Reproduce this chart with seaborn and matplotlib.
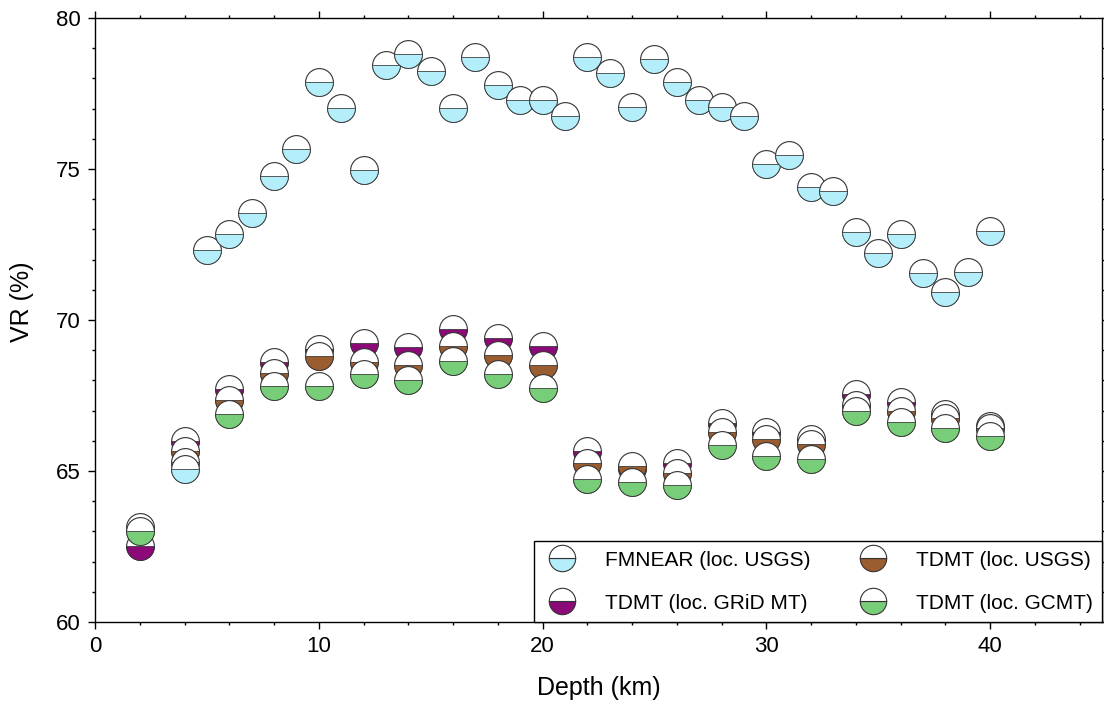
import numpy as np
import pandas as pd
import matplotlib
matplotlib.use("Agg")
import matplotlib.pyplot as plt
from matplotlib.path import Path
from matplotlib.lines import Line2D
from matplotlib.ticker import MultipleLocator
import seaborn as sns

# Variance reduction (%) versus source depth (km)
fmnear_depth = [4, 5, 6, 7, 8, 9, 10, 11, 12, 13, 14, 15, 16, 17, 18, 19, 20, 21,
                22, 23, 24, 25, 26, 27, 28, 29, 30, 31, 32, 33, 34, 35, 36, 37,
                38, 39, 40]
fmnear_vr = [65.05, 72.32, 72.85, 73.54, 74.77, 75.66, 77.88, 77.02, 74.97, 78.44,
             78.80, 78.25, 77.02, 78.70, 77.78, 77.30, 77.30, 76.75, 78.70, 78.18,
             77.05, 78.64, 77.88, 77.30, 77.05, 76.75, 75.17, 75.48, 74.40, 74.27,
             72.91, 72.22, 72.85, 71.56, 70.93, 71.59, 72.95]

tdmt_depth = [2, 4, 6, 8, 10, 12, 14, 16, 18, 20, 22, 24, 26, 28, 30, 32, 34, 36, 38, 40]
tdmt_grid_vr = [62.50, 66.00, 67.70, 68.60, 69.05, 69.25, 69.10, 69.70, 69.40, 69.15,
                65.65, 65.10, 65.25, 66.60, 66.30, 66.05, 67.55, 67.30, 66.90, 66.50]
tdmt_usgs_vr = [63.15, 65.65, 67.35, 68.25, 68.80, 68.62, 68.50, 69.15, 68.85, 68.50,
                65.25, 65.15, 64.95, 66.30, 66.05, 65.90, 67.20, 67.00, 66.75, 66.42]
tdmt_gcmt_vr = [63.02, 65.30, 66.88, 67.80, 67.80, 68.20, 68.00, 68.65, 68.20, 67.75,
                64.72, 64.65, 64.52, 65.87, 65.50, 65.40, 67.00, 66.62, 66.42, 66.15]

labels = ["FMNEAR (loc. USGS)", "TDMT (loc. GRiD MT)",
          "TDMT (loc. USGS)", "TDMT (loc. GCMT)"]
colors = {"FMNEAR (loc. USGS)": "#b3eefa",
          "TDMT (loc. GRiD MT)": "#8c0a78",
          "TDMT (loc. USGS)": "#9b5c30",
          "TDMT (loc. GCMT)": "#78cd78"}

sns.set_theme(style="ticks")
plt.rcParams["font.family"] = ["Liberation Sans", "DejaVu Sans"]
plt.rcParams.update({"text.color": "black", "axes.labelcolor": "black",
                     "xtick.color": "black", "ytick.color": "black"})

EDGE = "#333333"
BALL_S = 400
BALL_LW = 0.8

# lower half of a unit disk: the shaded (compressional) part of the beachball
theta = np.linspace(np.pi, 2 * np.pi, 64)
half_verts = np.vstack([np.column_stack([np.cos(theta), np.sin(theta)]), [[-1.0, 0.0]]])
half_codes = [Path.MOVETO] + [Path.LINETO] * (len(theta) - 1) + [Path.CLOSEPOLY]
lower_half = Path(half_verts, half_codes)

fig = plt.figure(figsize=(11.04, 7.02), dpi=100)
ax = fig.add_axes([95 / 1104, 1 - 622 / 702, (1102 - 95) / 1104, (622 - 18) / 702])


def draw_balls(depths, values, color):
    for d, v in zip(depths, values):
        pt = pd.DataFrame({"depth": [d], "vr": [v]})
        sns.scatterplot(data=pt, x="depth", y="vr", marker="o", s=BALL_S,
                        color="white", edgecolor=EDGE, linewidth=BALL_LW,
                        ax=ax, legend=False, zorder=3)
        sns.scatterplot(data=pt, x="depth", y="vr", marker=lower_half, s=BALL_S,
                        color=color, edgecolor=EDGE, linewidth=BALL_LW * 0.7,
                        ax=ax, legend=False, zorder=3)


draw_balls(tdmt_depth, tdmt_grid_vr, colors["TDMT (loc. GRiD MT)"])
draw_balls(tdmt_depth, tdmt_usgs_vr, colors["TDMT (loc. USGS)"])
draw_balls(tdmt_depth, tdmt_gcmt_vr, colors["TDMT (loc. GCMT)"])
draw_balls(fmnear_depth, fmnear_vr, colors["FMNEAR (loc. USGS)"])

ax.set_xlim(0, 45)
ax.set_ylim(60, 80)
ax.xaxis.set_major_locator(MultipleLocator(10))
ax.xaxis.set_minor_locator(MultipleLocator(2))
ax.yaxis.set_major_locator(MultipleLocator(5))
ax.yaxis.set_minor_locator(MultipleLocator(1))
ax.tick_params(which="both", direction="out", top=True, right=True,
               labeltop=False, labelright=False, color="black", width=1.0)
ax.tick_params(which="major", length=5, labelsize=16, pad=5)
ax.tick_params(which="minor", length=2.5)
for sp in ax.spines.values():
    sp.set_color("black")
    sp.set_linewidth(1.0)

ax.set_xlabel("Depth (km)", fontsize=18, labelpad=14)
ax.set_ylabel("VR (%)", fontsize=18, labelpad=16)
ax.yaxis.label.set_y(0.53)

handles = [Line2D([], [], linestyle="none", marker="o", markersize=19,
                  fillstyle="bottom", markerfacecolor=colors[lab],
                  markerfacecoloralt="white", markeredgecolor=EDGE,
                  markeredgewidth=0.8) for lab in labels]
leg = ax.legend(handles, labels, loc="lower right", ncol=2, frameon=True,
                fancybox=False, edgecolor="black", framealpha=1,
                borderaxespad=0, fontsize=15, handlelength=1.8,
                handletextpad=1.15, columnspacing=2.1, borderpad=0.45,
                labelspacing=1.15)
leg.get_frame().set_linewidth(1.0)

fig.savefig("out.png", dpi=100)
